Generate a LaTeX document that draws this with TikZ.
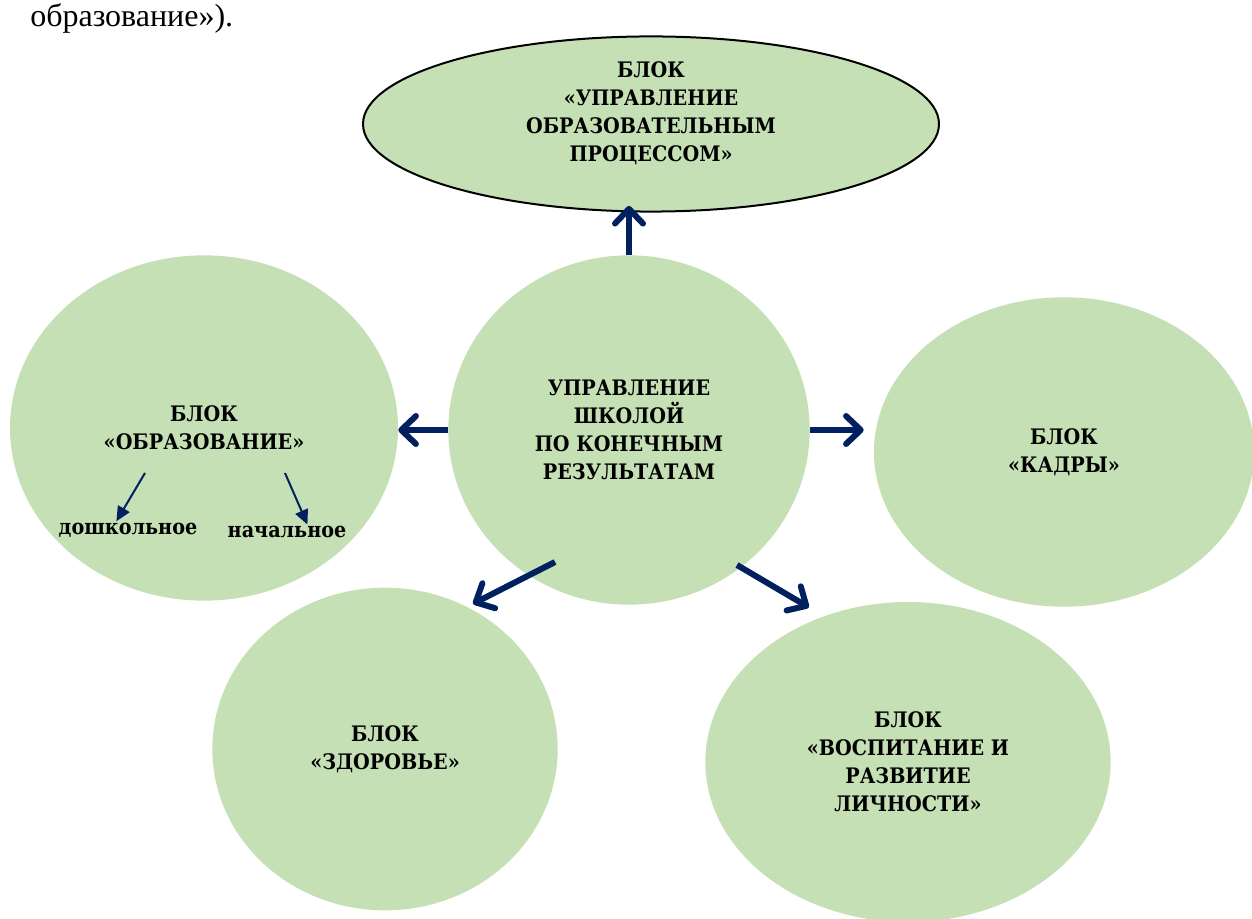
\documentclass[tikz,border=0pt]{standalone}
\usepackage{fontspec}
\setmainfont{Liberation Serif}
\newfontfamily\blockfont{DejaVu Serif Condensed}
\usetikzlibrary{shapes.geometric,arrows.meta}

\definecolor{blockgreen}{HTML}{C5E0B4}
\definecolor{arrownavy}{HTML}{002060}

\tikzset{
  blk/.style={ellipse, fill=blockgreen, inner sep=0pt, align=center,
    font=\blockfont\bfseries\fontsize{16}{21}\selectfont},
  sublbl/.style={inner sep=1pt, font=\blockfont\bfseries\fontsize{16}{18}\selectfont},
  bigarrow/.style={draw=arrownavy, line width=4.5pt,
    -{Straight Barb[length=11pt,width=21pt,round]}},
  smallarrow/.style={draw=arrownavy, line width=1.5pt,
    -{Triangle[length=11pt,width=10pt]}}
}

\begin{document}
\begin{tikzpicture}[x=0.75pt,y=-0.75pt]
      \useasboundingbox (0,0) rectangle (1252,919);
      \node[anchor=base west, inner sep=0pt, font=\fontsize{24}{28}\selectfont] (cap) at (30,27) {образование»).};
      \draw
        (651,124) node[blk, draw=black, line width=1.5pt, minimum width=432pt, minimum height=126pt, text depth=18pt] (up)
          {БЛОК\\«УПРАВЛЕНИЕ\\ОБРАЗОВАТЕЛЬНЫМ\\ПРОЦЕССОМ»}
        (204,428) node[blk, minimum width=291pt, minimum height=259pt] (left)
          {БЛОК\\«ОБРАЗОВАНИЕ»}
        (1064,452) node[blk, minimum width=285pt, minimum height=232pt] (right)
          {БЛОК\\«КАДРЫ»}
        (385,749) node[blk, minimum width=259pt, minimum height=242pt] (health)
          {БЛОК\\«ЗДОРОВЬЕ»}
        (908,762) node[blk, minimum width=304pt, minimum height=240pt] (upbring)
          {БЛОК\\«ВОСПИТАНИЕ И\\РАЗВИТИЕ\\ЛИЧНОСТИ»}
        (629,430) node[blk, minimum width=271pt, minimum height=262pt] (centre)
          {УПРАВЛЕНИЕ\\ШКОЛОЙ\\ПО КОНЕЧНЫМ\\РЕЗУЛЬТАТАМ}
        (128,530) node[sublbl] (preschool) {дошкольное}
        (287,532) node[sublbl] (primary) {начальное};
      \coordinate (dl) at (555,562);
      \coordinate (dr) at (737,565);
      \coordinate (ps) at (145,473);
      \coordinate (pr) at (285,473);
      \begin{scope}[bigarrow]
        \draw[shorten >=-5pt] (centre.north) to (centre.north |- up.south);
        \draw (centre.west) to (centre.west -| left.east);
        \draw[shorten >=7.5pt] (centre.east) to (centre.east -| right.west);
        \draw[shorten >=5pt] (dl) to (health.60);
        \draw[shorten >=13pt] (dr) to (upbring.120);
      \end{scope}
      \begin{scope}[smallarrow]
        \draw (ps) to (preschool.143);
        \draw (pr) to (primary.20);
      \end{scope}
    \end{tikzpicture}
\end{document}
